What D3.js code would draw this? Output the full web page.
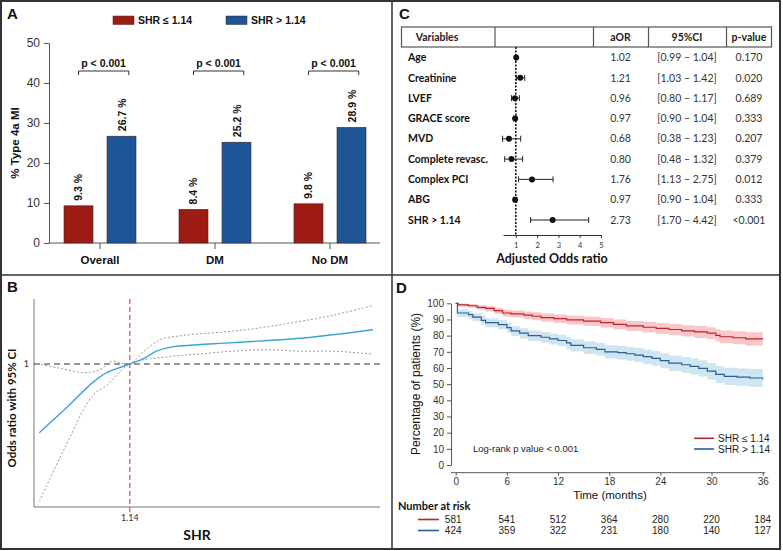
<!DOCTYPE html>
<html>
<head>
<meta charset="utf-8">
<script src="https://cdn.jsdelivr.net/npm/d3@7"></script>
<style>
  body { margin: 0; background: #fff; }
  svg { display: block; }
</style>
</head>
<body>
<svg id="fig" width="783" height="551"></svg>
<script>
// ---- panel A data
var groups = ["Overall", "DM", "No DM"];
var seriesNames = ["SHR \u2264 1.14", "SHR > 1.14"];
var lowShr = [9.3, 8.4, 9.8];
var highShr = [26.7, 25.2, 28.9];
var pLabels = ["p < 0.001", "p < 0.001", "p < 0.001"];
var aTicks = [0, 10, 20, 30, 40, 50];

// ---- panel B data (restricted cubic spline, OR vs SHR)
var knot = 1.14;
var splineX = [0.63, 0.78, 0.93, 1.01, 1.07, 1.14, 1.22, 1.29, 1.38, 1.46, 1.72, 2.10, 2.51];
var splineOR = [0.52, 0.69, 0.87, 0.94, 0.97, 1.00, 1.04, 1.09, 1.12, 1.13, 1.15, 1.18, 1.24];
var upperX = [0.62, 0.75, 0.88, 0.97, 1.04, 1.08, 1.14, 1.22, 1.31, 1.44, 1.72, 1.91, 2.28, 2.51];
var upperOR = [1.00, 0.97, 0.94, 0.96, 1.02, 1.01, 1.00, 1.09, 1.17, 1.20, 1.23, 1.26, 1.34, 1.41];
var lowerX = [0.63, 0.78, 0.93, 1.01, 1.14, 1.35, 1.53, 1.72, 1.91, 2.10, 2.28, 2.51];
var lowerOR = [0.04, 0.43, 0.78, 0.85, 1.00, 1.05, 1.07, 1.09, 1.10, 1.09, 1.09, 1.07];

// ---- panel C data (multivariable model)
var variables = ["Age", "Creatinine", "LVEF", "GRACE score", "MVD", "Complete revasc.", "Complex PCI", "ABG", "SHR > 1.14"];
var aor = [1.02, 1.21, 0.96, 0.97, 0.68, 0.80, 1.76, 0.97, 2.73];
var ciLow = [0.99, 1.03, 0.80, 0.90, 0.38, 0.48, 1.13, 0.90, 1.70];
var ciHigh = [1.04, 1.42, 1.17, 1.04, 1.23, 1.32, 2.75, 1.04, 4.42];
var pValues = ["0.170", "0.020", "0.689", "0.333", "0.207", "0.379", "0.012", "0.333", "<0.001"];
var orTicks = [1, 2, 3, 4, 5];

// ---- panel D data (Kaplan-Meier)
var timeLow = [0, 0.3, 1.5, 2.5, 3.5, 4.5, 5.5, 6.5, 8, 9, 10, 11.5, 13, 15, 17, 18.5, 20, 22, 23.5, 25, 26.5, 28, 29.5, 30.5, 31, 32.5, 34, 36];
var survLow = [100, 99, 98.5, 97.5, 96.8, 95.5, 94, 93.4, 92.7, 92, 91.2, 90.5, 89.7, 89, 88, 87, 86, 85.2, 84.5, 83.8, 83, 82.3, 81.5, 80.2, 79.3, 78.7, 78, 77.8];
var survLowLo = [100, 98, 97.2, 96, 95, 93.6, 91.9, 91.2, 90.3, 89.5, 88.6, 87.8, 86.9, 86.1, 85, 83.9, 82.8, 81.9, 81.1, 80.3, 79.4, 78.6, 77.7, 76.3, 75.3, 74.6, 73.8, 73.5];
var survLowHi = [100, 99.8, 99.5, 98.8, 98.3, 97.3, 96, 95.5, 94.9, 94.4, 93.7, 93.1, 92.4, 91.8, 90.9, 90, 89.1, 88.4, 87.8, 87.2, 86.5, 85.9, 85.2, 84, 83.2, 82.7, 82.1, 82];
var timeHigh = [0, 0.2, 1.5, 2, 3, 3.5, 5, 6, 6.5, 7.5, 8.5, 10, 11, 12, 13, 13.5, 15, 16.5, 17.5, 19, 20, 21, 22, 23, 24, 25, 26.5, 27.5, 28.5, 29.5, 30.5, 31.5, 33, 34.5, 36];
var survHigh = [100, 94, 93, 91.5, 89.5, 88, 86.8, 85, 83, 81.5, 80, 79, 78, 77, 75.5, 74, 72.5, 71.5, 70, 69.5, 68.8, 68, 67, 66, 64.5, 63, 62, 61, 59.8, 58, 56, 54.8, 54.3, 53.8, 53];
var survHighLo = [100, 91.6, 90.5, 88.9, 86.8, 85.2, 83.9, 82, 79.9, 78.3, 76.7, 75.6, 74.5, 73.4, 71.8, 70.2, 68.6, 67.5, 65.9, 65.3, 64.5, 63.6, 62.5, 61.4, 59.8, 58.2, 57.1, 56, 54.7, 52.8, 50.7, 49.4, 48.8, 48.2, 47.4];
var survHighHi = [100, 96.1, 95.3, 93.9, 92.1, 90.7, 89.6, 87.9, 86, 84.6, 83.2, 82.3, 81.4, 80.5, 79.1, 77.7, 76.3, 75.4, 74, 73.6, 73, 72.3, 71.4, 70.5, 69.1, 67.7, 66.8, 65.9, 64.8, 63.1, 61.2, 60.1, 59.7, 59.3, 58.6];
var monthTicks = [0, 6, 12, 18, 24, 30, 36];
var pctTicks = [0, 10, 20, 30, 40, 50, 60, 70, 80, 90, 100];
var riskLow = [581, 541, 512, 364, 280, 220, 184];
var riskHigh = [424, 359, 322, 231, 180, 140, 127];

var RED = "#9d1b12", BLUE = "#1d5596";
var KM_RED = "#b8262b", KM_BLUE = "#2b5f95";
var ARIAL = "Liberation Sans, Arial, sans-serif";
var CALI = "Lato, sans-serif";

var svg = d3.select("#fig");

// frame
svg.append("rect").attr("x", 1).attr("y", 1).attr("width", 779).attr("height", 548)
  .attr("fill", "none").attr("stroke", "#333").attr("stroke-width", 2);
svg.append("line").attr("x1", 392).attr("x2", 392).attr("y1", 1).attr("y2", 549)
  .attr("stroke", "#333").attr("stroke-width", 1.5);
svg.append("line").attr("x1", 1).attr("x2", 780).attr("y1", 275).attr("y2", 275)
  .attr("stroke", "#333").attr("stroke-width", 1.5);

function letter(t, x, y) {
  svg.append("text").attr("x", x).attr("y", y).text(t)
    .style("font", "bold 15px " + ARIAL).attr("fill", "#111");
}
letter("A", 7, 19);
letter("B", 7, 292);
letter("C", 399, 19);
letter("D", 396, 293);

// ================= Panel A
(function () {
  var g = svg.append("g");
  var y = d3.scaleLinear().domain([0, 50]).range([243, 43]);
  var x = d3.scaleBand().domain(groups).range([42.5, 387.5]);
  var xs = d3.scaleBand().domain(seriesNames).range([-36, 36]).paddingInner(0.326);
  var color = d3.scaleOrdinal().domain(seriesNames).range([RED, BLUE]);

  var yAxis = g.append("g").attr("transform", "translate(49,0)")
    .call(d3.axisLeft(y).tickValues(aTicks).tickSize(5).tickSizeOuter(0));
  yAxis.select(".domain").attr("stroke", "#555");
  yAxis.selectAll(".tick line").attr("stroke", "#555");
  yAxis.selectAll("text").style("font", "12px " + ARIAL).attr("fill", "#333").attr("dx", "-1");

  g.append("line").attr("x1", 49).attr("x2", 380).attr("y1", 243).attr("y2", 243).attr("stroke", "#555");
  g.selectAll(".cat-tick").data(groups).enter().append("line")
    .attr("x1", function (d) { return x(d) + x.bandwidth() / 2; })
    .attr("x2", function (d) { return x(d) + x.bandwidth() / 2; })
    .attr("y1", 243).attr("y2", 249).attr("stroke", "#555");
  g.selectAll(".cat").data(groups).enter().append("text")
    .attr("x", function (d) { return x(d) + x.bandwidth() / 2; })
    .attr("y", 264).attr("text-anchor", "middle")
    .style("font", "bold 11.5px " + ARIAL).attr("fill", "#111")
    .text(function (d) { return d; });

  var rows = [];
  groups.forEach(function (grp, i) {
    rows.push({ group: grp, s: seriesNames[0], v: lowShr[i] });
    rows.push({ group: grp, s: seriesNames[1], v: highShr[i] });
  });

  g.selectAll(".bar").data(rows).enter().append("rect")
    .attr("x", function (d) { return x(d.group) + x.bandwidth() / 2 + xs(d.s); })
    .attr("y", function (d) { return y(d.v); })
    .attr("width", xs.bandwidth())
    .attr("height", function (d) { return 243 - y(d.v); })
    .attr("fill", function (d) { return color(d.s); })
    .attr("stroke", "#3a2a2a").attr("stroke-width", 0.6);

  g.selectAll(".val").data(rows).enter().append("text")
    .attr("transform", function (d) {
      var cx = x(d.group) + x.bandwidth() / 2 + xs(d.s) + xs.bandwidth() / 2;
      return "translate(" + (cx + 4) + "," + (y(d.v) - 5) + ") rotate(-90)";
    })
    .style("font", "bold 10.5px " + ARIAL).attr("fill", "#111")
    .text(function (d) { return d.v.toFixed(1) + " %"; });

  // significance brackets
  groups.forEach(function (grp, i) {
    var c = x(grp) + x.bandwidth() / 2;
    var x0 = c + xs(seriesNames[0]) + xs.bandwidth() / 2;
    var x1 = c + xs(seriesNames[1]) + xs.bandwidth() * 0.75;
    g.append("path")
      .attr("d", "M" + x0 + ",75V71H" + x1 + "V75")
      .attr("fill", "none").attr("stroke", "#333").attr("stroke-width", 1);
    g.append("text").attr("x", (x0 + x1) / 2).attr("y", 67).attr("text-anchor", "middle")
      .style("font", "bold 10.5px " + ARIAL).attr("fill", "#111").text(pLabels[i]);
  });

  g.append("text").attr("transform", "translate(19,143) rotate(-90)")
    .attr("text-anchor", "middle").style("font", "bold 11.5px " + ARIAL).attr("fill", "#111")
    .text("% Type 4a MI");

  // legend
  var lx = [113, 226];
  seriesNames.forEach(function (s, i) {
    g.append("rect").attr("x", lx[i]).attr("y", 16).attr("width", 21).attr("height", 8.5)
      .attr("fill", color(s)).attr("stroke", "#3a2a2a").attr("stroke-width", 0.5);
    g.append("text").attr("x", lx[i] + 25).attr("y", 24)
      .style("font", "bold 10.5px " + ARIAL).attr("fill", "#111").text(s);
  });
})();

// ================= Panel B
(function () {
  var g = svg.append("g");
  var x = d3.scaleLinear().domain([0.6, 2.55]).range([34, 380]);
  var y = d3.scaleLinear().domain([0, 1.455]).range([507, 299]);

  g.append("line").attr("x1", 34).attr("x2", 34).attr("y1", 299).attr("y2", 507).attr("stroke", "#777");
  g.append("line").attr("x1", 34).attr("x2", 380).attr("y1", 507).attr("y2", 507).attr("stroke", "#777");

  g.append("line").attr("x1", 34).attr("x2", 380).attr("y1", y(1)).attr("y2", y(1))
    .attr("stroke", "#333").attr("stroke-width", 1.1).attr("stroke-dasharray", "6,4");
  g.append("text").attr("x", 29).attr("y", y(1)).attr("dy", "0.35em").attr("text-anchor", "end")
    .style("font", "9px " + CALI).attr("fill", "#333").text("1");

  g.append("line").attr("x1", x(knot)).attr("x2", x(knot)).attr("y1", 299).attr("y2", 513)
    .attr("stroke", "#f0343f").attr("stroke-width", 1.1).attr("stroke-dasharray", "5,3");
  g.append("text").attr("x", x(knot)).attr("y", 521).attr("text-anchor", "middle")
    .style("font", "9px " + CALI).attr("fill", "#333").text(knot.toFixed(2));

  var line = d3.line().curve(d3.curveCatmullRom)
    .x(function (d) { return x(d[0]); })
    .y(function (d) { return y(d[1]); });

  g.append("path").datum(d3.zip(upperX, upperOR)).attr("d", line)
    .attr("fill", "none").attr("stroke", "#999").attr("stroke-width", 1).attr("stroke-dasharray", "2,2");
  g.append("path").datum(d3.zip(lowerX, lowerOR)).attr("d", line)
    .attr("fill", "none").attr("stroke", "#999").attr("stroke-width", 1).attr("stroke-dasharray", "2,2");
  g.append("path").datum(d3.zip(splineX, splineOR)).attr("d", line)
    .attr("fill", "none").attr("stroke", "#3aa3d2").attr("stroke-width", 1.4);

  g.append("text").attr("transform", "translate(16,408) rotate(-90)").attr("text-anchor", "middle")
    .style("font", "bold 11.5px " + CALI).attr("fill", "#111").text("Odds ratio with 95% CI");
  g.append("text").attr("x", 197).attr("y", 540).attr("text-anchor", "middle")
    .style("font", "bold 14px " + CALI).attr("fill", "#111").text("SHR");
})();

// ================= Panel C
(function () {
  var g = svg.append("g");
  var x = d3.scaleLinear().domain([0.4, 5]).range([503, 601]);
  var y = d3.scalePoint().domain(variables).range([57.5, 220]);

  // header table
  g.append("rect").attr("x", 401.5).attr("y", 27).attr("width", 370).attr("height", 20)
    .attr("fill", "none").attr("stroke", "#555").attr("stroke-width", 1.2);
  [495, 593.5, 648.5, 726.5].forEach(function (cx) {
    g.append("line").attr("x1", cx).attr("x2", cx).attr("y1", 27).attr("y2", 47)
      .attr("stroke", "#555").attr("stroke-width", 1.2);
  });
  var head = [["Variables", 437], ["aOR", 620.5], ["95%CI", 687], ["p-value", 749]];
  head.forEach(function (h) {
    g.append("text").attr("x", h[1]).attr("y", 37).attr("dy", "0.35em").attr("text-anchor", "middle")
      .style("font", "bold 10.5px " + CALI).attr("fill", "#222").text(h[0]);
  });

  g.append("line").attr("x1", x(1)).attr("x2", x(1)).attr("y1", 47).attr("y2", 235)
    .attr("stroke", "#111").attr("stroke-width", 1.6).attr("stroke-dasharray", "2,1.5");

  var ax = g.append("g").attr("transform", "translate(0,235)")
    .call(d3.axisBottom(x).tickValues(orTicks).tickSize(3).tickSizeOuter(0).tickFormat(d3.format("d")));
  ax.select(".domain").attr("stroke", "#333");
  ax.selectAll(".tick line").attr("stroke", "#333");
  ax.selectAll("text").style("font", "7.5px " + CALI).attr("fill", "#333").attr("dy", "0.9em");

  var row = g.selectAll(".row").data(variables).enter().append("g")
    .attr("transform", function (d) { return "translate(0," + y(d) + ")"; });

  row.append("text").attr("x", 408).attr("dy", "0.35em")
    .style("font", "bold 10.5px " + CALI).attr("fill", "#111").text(function (d) { return d; });
  row.append("line")
    .attr("x1", function (d, i) { return x(ciLow[i]); })
    .attr("x2", function (d, i) { return x(ciHigh[i]); })
    .attr("stroke", "#222").attr("stroke-width", 1);
  row.append("line")
    .attr("x1", function (d, i) { return x(ciLow[i]); })
    .attr("x2", function (d, i) { return x(ciLow[i]); })
    .attr("y1", -3).attr("y2", 3).attr("stroke", "#222");
  row.append("line")
    .attr("x1", function (d, i) { return x(ciHigh[i]); })
    .attr("x2", function (d, i) { return x(ciHigh[i]); })
    .attr("y1", -3).attr("y2", 3).attr("stroke", "#222");
  row.append("circle").attr("cx", function (d, i) { return x(aor[i]); }).attr("r", 3).attr("fill", "#111");

  row.append("text").attr("x", 620.5).attr("dy", "0.35em").attr("text-anchor", "middle")
    .style("font", "10.5px " + CALI).attr("fill", "#333").text(function (d, i) { return aor[i].toFixed(2); });
  row.append("text").attr("x", 687).attr("dy", "0.35em").attr("text-anchor", "middle")
    .style("font", "10.5px " + CALI).attr("fill", "#333")
    .text(function (d, i) { return "[" + ciLow[i].toFixed(2) + " \u2013 " + ciHigh[i].toFixed(2) + "]"; });
  row.append("text").attr("x", 749).attr("dy", "0.35em").attr("text-anchor", "middle")
    .style("font", "10.5px " + CALI).attr("fill", "#333").text(function (d, i) { return pValues[i]; });

  g.append("text").attr("x", 552).attr("y", 263).attr("text-anchor", "middle")
    .style("font", "bold 12.5px " + CALI).attr("fill", "#111").text("Adjusted Odds ratio");
})();

// ================= Panel D
(function () {
  var g = svg.append("g");
  var x = d3.scaleLinear().domain([0, 36]).range([455.7, 762.7]);
  var y = d3.scaleLinear().domain([0, 100]).range([465, 303.3]);

  var area = d3.area().curve(d3.curveStepAfter)
    .x(function (d) { return x(d[0]); })
    .y0(function (d) { return y(d[1]); })
    .y1(function (d) { return y(d[2]); });
  var line = d3.line().curve(d3.curveStepAfter)
    .x(function (d) { return x(d[0]); })
    .y(function (d) { return y(d[1]); });

  g.append("path").datum(d3.zip(timeLow, survLowLo, survLowHi)).attr("d", area).attr("fill", "#f9c6ca");
  g.append("path").datum(d3.zip(timeHigh, survHighLo, survHighHi)).attr("d", area).attr("fill", "#cfe5f2");
  g.append("path").datum(d3.zip(timeLow, survLow)).attr("d", line)
    .attr("fill", "none").attr("stroke", KM_RED).attr("stroke-width", 1.2);
  g.append("path").datum(d3.zip(timeHigh, survHigh)).attr("d", line)
    .attr("fill", "none").attr("stroke", KM_BLUE).attr("stroke-width", 1.2);

  var ya = g.append("g").attr("transform", "translate(451,0)")
    .call(d3.axisLeft(y).tickValues(pctTicks).tickSize(4).tickSizeOuter(0));
  ya.select(".domain").attr("stroke", "#555");
  ya.selectAll(".tick line").attr("stroke", "#555");
  ya.selectAll("text").style("font", "10px " + ARIAL).attr("fill", "#333");

  var xa = g.append("g").attr("transform", "translate(0,472.7)")
    .call(d3.axisBottom(x).tickValues(monthTicks).tickSize(3).tickSizeOuter(0));
  xa.select(".domain").remove();
  xa.selectAll(".tick line").attr("stroke", "#555");
  xa.selectAll("text").style("font", "10px " + ARIAL).attr("fill", "#333").attr("dy", "0.6em");
  g.append("line").attr("x1", 451).attr("x2", 765).attr("y1", 472.7).attr("y2", 472.7).attr("stroke", "#555");

  g.append("text").attr("transform", "translate(420,384) rotate(-90)").attr("text-anchor", "middle")
    .style("font", "12px " + ARIAL).attr("fill", "#111").text("Percentage of patients (%)");
  g.append("text").attr("x", 610).attr("y", 499).attr("text-anchor", "middle")
    .style("font", "11.5px " + ARIAL).attr("fill", "#111").text("Time (months)");

  g.append("text").attr("x", 473).attr("y", 449).attr("dy", "0.35em")
    .style("font", "9.5px " + ARIAL).attr("fill", "#222").text("Log-rank p value < 0.001");

  var leg = [[seriesNames[0], KM_RED, 438.3], [seriesNames[1], KM_BLUE, 449]];
  leg.forEach(function (l) {
    g.append("line").attr("x1", 694).attr("x2", 714).attr("y1", l[2]).attr("y2", l[2])
      .attr("stroke", l[1]).attr("stroke-width", 1.6);
    g.append("text").attr("x", 718).attr("y", l[2]).attr("dy", "0.35em")
      .style("font", "10px " + ARIAL).attr("fill", "#222").text(l[0]);
  });

  // number at risk
  g.append("text").attr("x", 398).attr("y", 510)
    .style("font", "bold 11px " + CALI).attr("fill", "#111").text("Number at risk");
  var riskRows = [[riskLow, KM_RED, 519.5], [riskHigh, KM_BLUE, 530.5]];
  riskRows.forEach(function (r) {
    g.append("line").attr("x1", 418).attr("x2", 439).attr("y1", r[2]).attr("y2", r[2])
      .attr("stroke", r[1]).attr("stroke-width", 1.6);
    g.selectAll(null).data(r[0]).enter().append("text")
      .attr("x", function (d, i) { return x(monthTicks[i]) - (i === 0 ? 2.5 : 0); })
      .attr("y", r[2]).attr("dy", "0.35em").attr("text-anchor", "middle")
      .style("font", "10px " + ARIAL).attr("fill", "#222").text(function (d) { return d; });
  });
})();
</script>
</body>
</html>
